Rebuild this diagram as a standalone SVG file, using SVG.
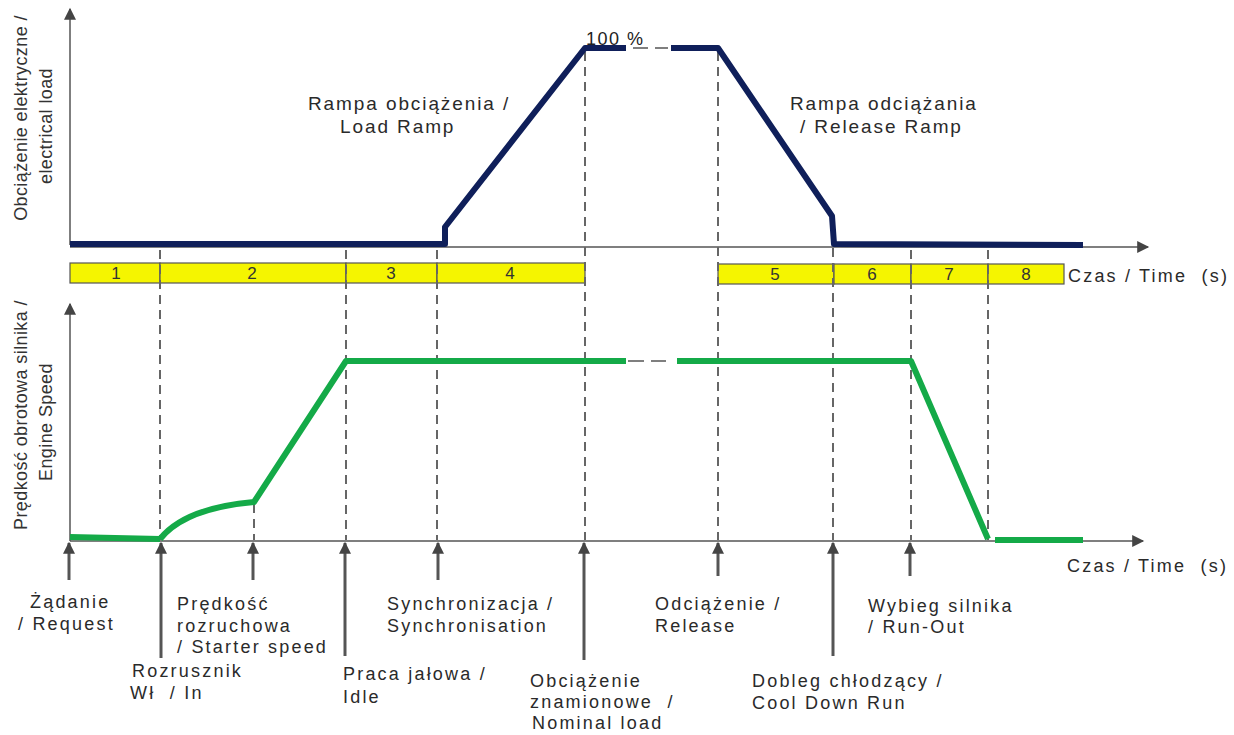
<svg xmlns="http://www.w3.org/2000/svg" width="1234" height="735" viewBox="0 0 1234 735">
<defs>
<style>
.ax{stroke:#555;stroke-width:1.5;fill:none}
.dash{stroke:#666;stroke-width:2;stroke-dasharray:9,6;fill:none}
.arr{stroke:#555;stroke-width:3;fill:none}
.blue{stroke:#0f1f5a;stroke-width:6;fill:none;stroke-linejoin:round}
.green{stroke:#14aa48;stroke-width:6;fill:none;stroke-linejoin:round}
.bar{fill:#f5f500;stroke:#555;stroke-width:1.2}
.num{font-family:"Liberation Sans",Arial,sans-serif;font-size:17px;fill:#333;text-anchor:middle}
.lbl{font-family:"Liberation Sans",Arial,sans-serif;font-size:18px;fill:#2a2a2a;letter-spacing:2.2px;white-space:pre}
.big{font-family:"Liberation Sans",Arial,sans-serif;font-size:19px;fill:#2a2a2a;letter-spacing:1.9px}
.ylab{font-family:"Liberation Sans",Arial,sans-serif;font-size:18px;fill:#333;text-anchor:middle;letter-spacing:0.4px}
</style>
<marker id="ah" viewBox="0 0 10 10" refX="9" refY="5" markerWidth="15" markerHeight="12" markerUnits="userSpaceOnUse" orient="auto">
<path d="M0,0 L10,5 L0,10 z" fill="#444"/>
</marker>
</defs>
<rect width="1234" height="735" fill="#fff"/>

<g id="axes">
<line class="ax" x1="70" y1="245" x2="70" y2="9" marker-end="url(#ah)"/>
<line class="ax" x1="70" y1="247" x2="1148" y2="247" marker-end="url(#ah)"/>
<line class="ax" x1="70" y1="541" x2="70" y2="304" marker-end="url(#ah)"/>
<line class="ax" x1="70" y1="541" x2="1143" y2="541" marker-end="url(#ah)"/>
</g>

<g id="phase-bars">
<rect class="bar" x="70" y="263" width="90" height="20"/>
<rect class="bar" x="160" y="263" width="186" height="20"/>
<rect class="bar" x="346" y="263" width="91" height="20"/>
<rect class="bar" x="437" y="263" width="148" height="20"/>
<rect class="bar" x="718" y="264" width="116" height="20"/>
<rect class="bar" x="834" y="264" width="77" height="20"/>
<rect class="bar" x="911" y="264" width="77" height="20"/>
<rect class="bar" x="988" y="264" width="76" height="20"/>
<text class="num" x="116" y="279">1</text>
<text class="num" x="252" y="279">2</text>
<text class="num" x="391" y="279">3</text>
<text class="num" x="510" y="279">4</text>
<text class="num" x="775" y="280">5</text>
<text class="num" x="872" y="280">6</text>
<text class="num" x="949" y="280">7</text>
<text class="num" x="1026" y="280">8</text>
</g>

<g id="dashed-markers">
<line class="dash" x1="160" y1="250" x2="160" y2="540"/>
<line class="dash" x1="346" y1="250" x2="346" y2="540"/>
<line class="dash" x1="437" y1="250" x2="437" y2="540"/>
<line class="dash" x1="585" y1="52" x2="585" y2="540"/>
<line class="dash" x1="718" y1="52" x2="718" y2="540"/>
<line class="dash" x1="833" y1="218" x2="833" y2="540"/>
<line class="dash" x1="911" y1="250" x2="911" y2="540"/>
<line class="dash" x1="988" y1="250" x2="988" y2="540"/>
<line class="dash" x1="254" y1="504" x2="254" y2="540"/>
</g>

<g id="load-curve">
<polyline class="blue" points="70,244 445,244 445,227 585,48 626,48"/>
<polyline class="blue" points="671,48 718,48 832,216 834,244 1083,245"/>
<line x1="633" y1="48" x2="648" y2="48" stroke="#555" stroke-width="1.5"/>
<line x1="655" y1="48" x2="668" y2="48" stroke="#555" stroke-width="1.5"/>
<text x="586" y="45" font-family="Liberation Sans, Arial, sans-serif" font-size="18" fill="#222" letter-spacing="1.5" style="white-space:pre">100 %</text>
</g>

<g id="speed-curve">
<polyline class="green" points="70,537 160,539"/>
<path class="green" d="M160,539 Q185,508 254,502 L346,361 L626,361"/>
<polyline class="green" points="677,361 911,361 988,539"/>
<line class="green" x1="995" y1="540" x2="1083" y2="540"/>
<line x1="628" y1="361" x2="644" y2="361" stroke="#555" stroke-width="1.5"/>
<line x1="651" y1="361" x2="666" y2="361" stroke="#555" stroke-width="1.5"/>
</g>

<g id="event-arrows">
<line class="arr" x1="69" y1="580" x2="69" y2="543" marker-end="url(#ah)"/>
<line class="arr" x1="161" y1="658" x2="161" y2="543" marker-end="url(#ah)"/>
<line class="arr" x1="253" y1="580" x2="253" y2="543" marker-end="url(#ah)"/>
<line class="arr" x1="345" y1="656" x2="345" y2="543" marker-end="url(#ah)"/>
<line class="arr" x1="438" y1="580" x2="438" y2="543" marker-end="url(#ah)"/>
<line class="arr" x1="584" y1="660" x2="584" y2="543" marker-end="url(#ah)"/>
<line class="arr" x1="718" y1="576" x2="718" y2="543" marker-end="url(#ah)"/>
<line class="arr" x1="833" y1="656" x2="833" y2="543" marker-end="url(#ah)"/>
<line class="arr" x1="910" y1="576" x2="910" y2="543" marker-end="url(#ah)"/>
</g>

<g id="axis-labels">
<text class="ylab" transform="translate(27,118) rotate(-90)">Obciążenie elektryczne /</text>
<text class="ylab" transform="translate(52,126) rotate(-90)">electrical load</text>
<text class="ylab" transform="translate(27,415) rotate(-90)">Prędkość obrotowa silnika /</text>
<text class="ylab" transform="translate(52,422) rotate(-90)">Engine Speed</text>
<text class="lbl" x="1068" y="282">Czas / Time  (s)</text>
<text class="lbl" x="1067" y="572">Czas / Time  (s)</text>
</g>

<g id="ramp-labels">
<text class="big" x="308" y="110">Rampa obciążenia /</text>
<text class="big" x="340" y="133">Load Ramp</text>
<text class="big" x="790" y="110">Rampa odciążania</text>
<text class="big" x="800" y="133">/ Release Ramp</text>
</g>

<g id="event-labels">
<text class="lbl" x="30" y="608">Żądanie</text>
<text class="lbl" x="18" y="630">/ Request</text>
<text class="lbl" x="177" y="610">Prędkość</text>
<text class="lbl" x="177" y="632">rozruchowa</text>
<text class="lbl" x="177" y="653">/ Starter speed</text>
<text class="lbl" x="132" y="677">Rozrusznik</text>
<text class="lbl" x="130" y="699">Wł  / In</text>
<text class="lbl" x="343" y="680">Praca jałowa /</text>
<text class="lbl" x="343" y="703">Idle</text>
<text class="lbl" x="387" y="610">Synchronizacja /</text>
<text class="lbl" x="387" y="632">Synchronisation</text>
<text class="lbl" x="530" y="687">Obciążenie</text>
<text class="lbl" x="530" y="708">znamionowe  /</text>
<text class="lbl" x="532" y="729">Nominal load</text>
<text class="lbl" x="655" y="610">Odciążenie /</text>
<text class="lbl" x="655" y="632">Release</text>
<text class="lbl" x="752" y="687">Dobleg chłodzący /</text>
<text class="lbl" x="752" y="709">Cool Down Run</text>
<text class="lbl" x="868" y="612">Wybieg silnika</text>
<text class="lbl" x="868" y="633">/ Run-Out</text>
</g>
</svg>
